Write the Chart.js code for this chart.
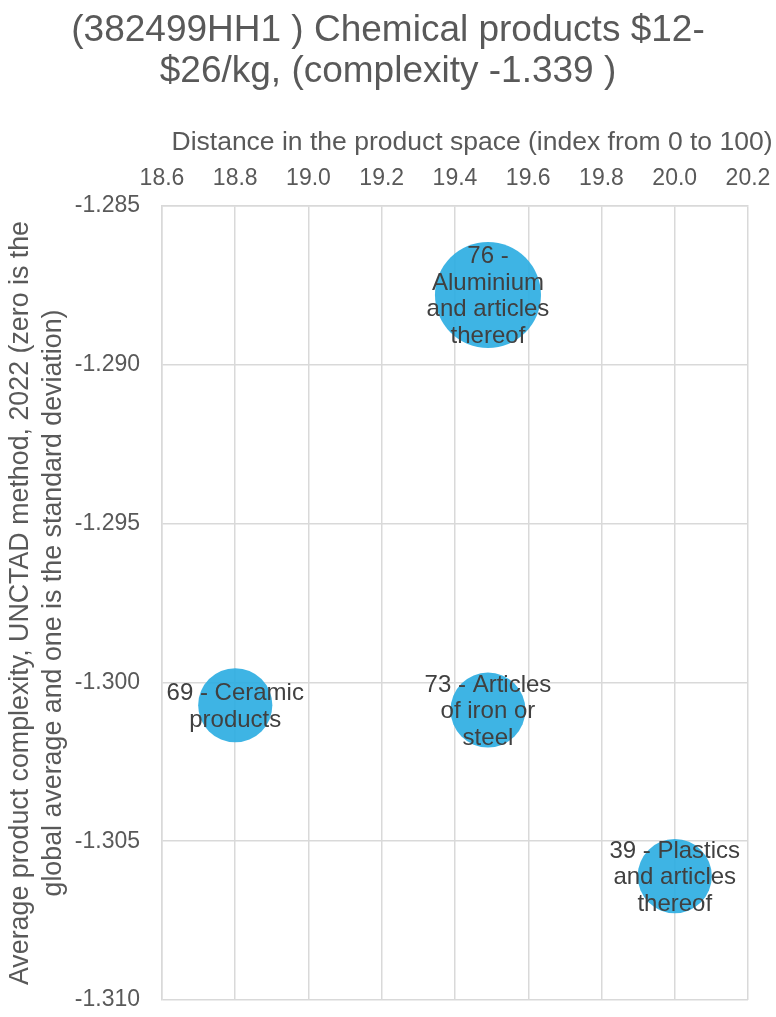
<!DOCTYPE html>
<html>
<head>
<meta charset="utf-8">
<script src="https://cdn.jsdelivr.net/npm/chart.js@4.4.1/dist/chart.umd.min.js"></script>
<style>
  html, body { margin: 0; padding: 0; background: #ffffff; }
  #wrap { width: 776px; height: 1017px; }
</style>
</head>
<body>
<div id="wrap"><canvas id="chart" width="776" height="1017"></canvas></div>
<script>
// Product groups near HS 382499 (chemical products, $12-$26/kg)
const productGroups = [
  '69 - Ceramic products',
  '76 - Aluminium and articles thereof',
  '73 - Articles of iron or steel',
  '39 - Plastics and articles thereof'
];
// Distance in the product space (index 0-100)
const distance = [18.80, 19.49, 19.49, 20.00];
// Average product complexity (UNCTAD, 2022)
const complexity = [-1.30072, -1.28780, -1.30087, -1.30610];
// Relative bubble size (trade weight)
const bubbleSize = [49, 100, 50, 49];

const titleLines = ['(382499HH1 ) Chemical products $12-', '$26/kg, (complexity -1.339 )'];
const xAxisTitle = 'Distance in the product space (index from 0 to 100)';
const yAxisTitle = ['Average product complexity, UNCTAD method, 2022 (zero is the',
                    'global average and one is the standard deviation)'];

const FONT = '"Liberation Sans", Arial, Helvetica, sans-serif';
const MAX_RADIUS = 53;
const maxSize = Math.max(...bubbleSize);

const points = productGroups.map((name, i) => ({
  x: distance[i],
  y: complexity[i],
  r: MAX_RADIUS * Math.sqrt(bubbleSize[i] / maxSize)
}));

// Word-wrap a label to a maximum width
function wrapLabel(ctx, text, maxWidth) {
  const words = text.split(' ');
  const lines = [];
  let line = '';
  words.forEach(w => {
    const test = line ? line + ' ' + w : w;
    if (line && ctx.measureText(test).width > maxWidth) {
      lines.push(line);
      line = w;
    } else {
      line = test;
    }
  });
  if (line) lines.push(line);
  return lines;
}

// Draws the group name centred on each bubble
const bubbleLabels = {
  id: 'bubbleLabels',
  afterDatasetsDraw(chart) {
    const ctx = chart.ctx;
    const meta = chart.getDatasetMeta(0);
    const lh = 26.5;
    ctx.save();
    ctx.font = '24px ' + FONT;
    ctx.fillStyle = '#404040';
    ctx.textAlign = 'center';
    ctx.textBaseline = 'middle';
    meta.data.forEach((pt, i) => {
      const lines = wrapLabel(ctx, productGroups[i], 142);
      const y0 = pt.y - (lines.length - 1) * lh / 2 + 1.5;
      lines.forEach((s, j) => ctx.fillText(s, pt.x, y0 + j * lh));
    });
    ctx.restore();
  }
};

// Chart title (centred on the canvas) and the title above the top x axis
const headings = {
  id: 'headings',
  afterDraw(chart) {
    const ctx = chart.ctx;
    const area = chart.chartArea;
    ctx.save();
    ctx.fillStyle = '#595959';
    ctx.textAlign = 'center';
    ctx.textBaseline = 'middle';
    ctx.font = '37px ' + FONT;
    titleLines.forEach((s, i) => ctx.fillText(s, chart.width / 2, 30.75 + i * 41.5));
    ctx.font = '26.5px ' + FONT;
    ctx.textBaseline = 'alphabetic';
    ctx.fillText(xAxisTitle, (area.left + area.right) / 2 + 17, 150);
    ctx.restore();
  }
};

const gridColor = '#d9d9d9';
const textColor = '#595959';

new Chart(document.getElementById('chart'), {
  type: 'bubble',
  data: {
    datasets: [{
      label: 'Product groups',
      data: points,
      backgroundColor: 'rgba(41,172,225,0.9)',
      borderWidth: 0,
      hoverBorderWidth: 0
    }]
  },
  options: {
    responsive: false,
    animation: false,
    devicePixelRatio: 1,
    layout: { autoPadding: false, padding: { top: 100, left: 0, right: 28, bottom: 17 } },
    plugins: {
      legend: { display: false },
      tooltip: { enabled: false },
      title: { display: false }
    },
    scales: {
      x: {
        type: 'linear',
        position: 'top',
        min: 18.6,
        max: 20.2,
        afterFit(scale) {
          scale.height = 106;
          scale.paddingLeft = 0;
          scale.paddingRight = 0;
        },
        ticks: {
          stepSize: 0.2,
          color: textColor,
          font: { family: FONT, size: 23 },
          padding: 14,
          maxRotation: 0,
          callback: v => Number(v).toFixed(1)
        },
        grid: { color: gridColor, lineWidth: 1.5, drawTicks: false },
        border: { color: gridColor, width: 1.5 },
        title: { display: false }
      },
      y: {
        type: 'linear',
        min: -1.310,
        max: -1.285,
        afterFit(scale) {
          scale.width = 162;
          scale.paddingTop = 0;
          scale.paddingBottom = 0;
        },
        ticks: {
          stepSize: 0.005,
          color: textColor,
          font: { family: FONT, size: 23 },
          padding: 22,
          callback: v => Number(v).toFixed(3)
        },
        grid: { color: gridColor, lineWidth: 1.5, drawTicks: false },
        border: { color: gridColor, width: 1.5 },
        title: {
          display: true,
          text: yAxisTitle,
          color: textColor,
          font: { family: FONT, size: 26.8, lineHeight: 33 / 26.8 },
          padding: { top: 4.5, bottom: 0 }
        }
      }
    }
  },
  plugins: [bubbleLabels, headings]
});
</script>
</body>
</html>
